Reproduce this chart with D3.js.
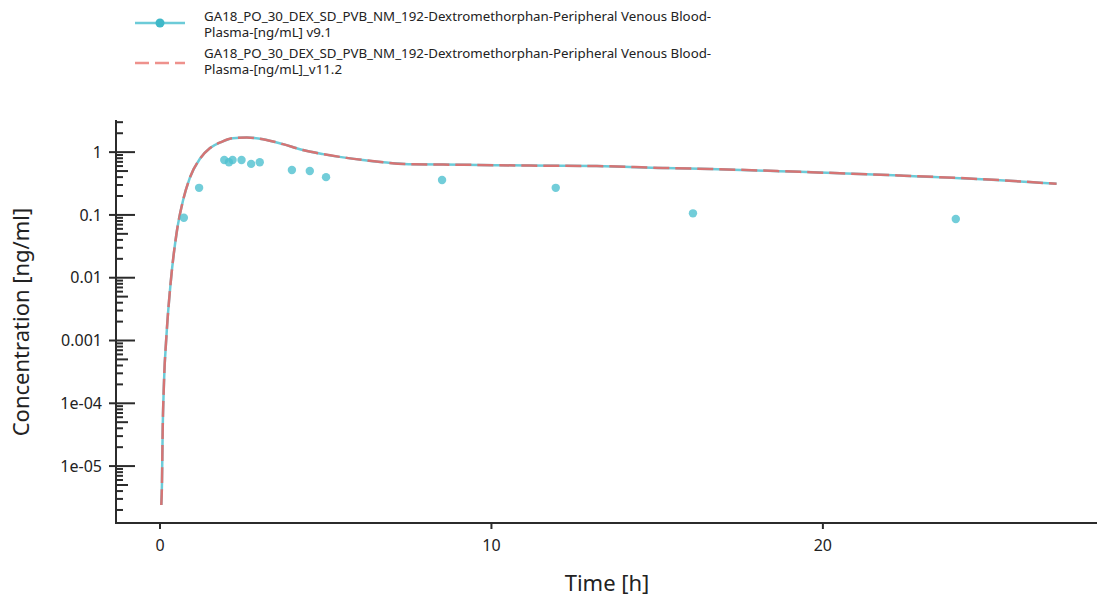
<!DOCTYPE html>
<html>
<head>
<meta charset="utf-8">
<script src="https://cdn.jsdelivr.net/npm/d3@7"></script>
<style>
  body { margin: 0; background: #fff; }
  svg { display: block; font-family: "Noto Sans", sans-serif; }
</style>
</head>
<body>
<div id="chart"></div>
<script>
// simulated profile (same for v9.1 and v11.2)
const simTime = [0.04, 0.06, 0.08, 0.12, 0.2, 0.32, 0.5, 0.7, 0.9, 1.21, 1.51, 1.86, 2.2, 2.62, 3.11, 3.71, 4.31, 4.92, 5.63, 6.12, 7.63, 9.14, 11.16, 13.18, 15.17, 16.59, 19.31, 22.32, 25.34, 27.05];
const simConc = [2.4e-6, 5.4e-6, 3.4e-5, 2.1e-4, 1.3e-3, 8.1e-3, 0.051, 0.174, 0.39, 0.79, 1.16, 1.46, 1.67, 1.71, 1.61, 1.34, 1.08, 0.93, 0.81, 0.75, 0.64, 0.63, 0.61, 0.60, 0.56, 0.54, 0.485, 0.425, 0.358, 0.313];

// observed data
const obsTime = [0.72, 1.18, 1.94, 2.08, 2.19, 2.46, 2.75, 3.01, 3.98, 4.52, 5.01, 8.51, 11.94, 16.08, 24.01];
const obsConc = [0.090, 0.27, 0.75, 0.69, 0.75, 0.75, 0.65, 0.69, 0.52, 0.50, 0.40, 0.36, 0.27, 0.106, 0.086];

const xTicks = [0, 10, 20];
const yMajor = [1e-5, 1e-4, 1e-3, 0.01, 0.1, 1];
const yLabels = ["1e-05", "1e-04", "0.001", "0.01", "0.1", "1"];

const legendLabels = [
  ["GA18_PO_30_DEX_SD_PVB_NM_192-Dextromethorphan-Peripheral Venous Blood-", "Plasma-[ng/mL] v9.1"],
  ["GA18_PO_30_DEX_SD_PVB_NM_192-Dextromethorphan-Peripheral Venous Blood-", "Plasma-[ng/mL]_v11.2"]
];

const width = 1097, height = 598;
const pLeft = 116, pRight = 1097, pTop = 120, pBottom = 523;
const cyan = "#6ccbd8", red = "#d57474";

const svg = d3.select("#chart").append("svg")
  .attr("width", width).attr("height", height);

const x = d3.scaleLinear().domain([-1.327, 28.27]).range([pLeft, pRight]);
const y = d3.scaleLog().domain([1.24e-6, 3.25]).range([pBottom, pTop]);

// axes lines
const axisColor = "#2b2b2b";
svg.append("line").attr("x1", pLeft).attr("x2", pLeft).attr("y1", pTop).attr("y2", pBottom)
  .attr("stroke", axisColor).attr("stroke-width", 2);
svg.append("line").attr("x1", pLeft - 1).attr("x2", pRight).attr("y1", pBottom).attr("y2", pBottom)
  .attr("stroke", axisColor).attr("stroke-width", 2);

// y ticks: major + minor (log)
const minor = [];
for (let e = -6; e <= 0; e++) {
  for (let m = 2; m <= 9; m++) {
    const v = m * Math.pow(10, e);
    if (v >= y.domain()[0] && v <= y.domain()[1]) minor.push({ v, m });
  }
}
svg.append("g").selectAll("line").data(minor).join("line")
  .attr("x1", pLeft).attr("x2", d => pLeft + (d.m === 5 ? 12 : 7))
  .attr("y1", d => y(d.v)).attr("y2", d => y(d.v))
  .attr("stroke", axisColor).attr("stroke-width", 2);
svg.append("g").selectAll("line").data(yMajor).join("line")
  .attr("x1", pLeft - 7).attr("x2", pLeft + 19)
  .attr("y1", d => y(d)).attr("y2", d => y(d))
  .attr("stroke", axisColor).attr("stroke-width", 2);
svg.append("g").selectAll("text").data(yMajor).join("text")
  .attr("x", 102).attr("y", d => y(d)).attr("dy", "0.36em")
  .attr("text-anchor", "end").attr("font-size", 16).attr("fill", "#222")
  .text((d, i) => yLabels[i]);

// x ticks
svg.append("g").selectAll("line").data(xTicks).join("line")
  .attr("x1", d => x(d)).attr("x2", d => x(d))
  .attr("y1", pBottom).attr("y2", pBottom + 6)
  .attr("stroke", axisColor).attr("stroke-width", 2);
svg.append("g").selectAll("text").data(xTicks).join("text")
  .attr("x", d => x(d)).attr("y", 551)
  .attr("text-anchor", "middle").attr("font-size", 16).attr("fill", "#222")
  .text(d => d);

// axis titles
svg.append("text").attr("x", 607).attr("y", 591).attr("text-anchor", "middle")
  .attr("font-size", 22).attr("fill", "#222").text("Time [h]");
svg.append("text").attr("transform", "translate(29,322) rotate(-90)")
  .attr("text-anchor", "middle").attr("font-size", 22).attr("fill", "#222")
  .text("Concentration [ng/ml]");

// simulated curves
const sim = simTime.map((t, i) => ({ t, c: simConc[i] }));
const line = d3.line().x(d => x(d.t)).y(d => y(d.c)).curve(d3.curveMonotoneX);

svg.append("path").datum(sim).attr("d", line)
  .attr("fill", "none").attr("stroke", cyan).attr("stroke-width", 2.5);
svg.append("path").datum(sim).attr("d", line)
  .attr("fill", "none").attr("stroke", red).attr("stroke-width", 2.5)
  .attr("stroke-dasharray", "16,6");

// observed points
const obs = obsTime.map((t, i) => ({ t, c: obsConc[i] }));
svg.append("g").selectAll("circle").data(obs).join("circle")
  .attr("cx", d => x(d.t)).attr("cy", d => y(d.c)).attr("r", 4.2)
  .attr("fill", "#4fc0d0").attr("fill-opacity", 0.8);

// legend
const lg = svg.append("g");
lg.append("line").attr("x1", 135).attr("x2", 185).attr("y1", 23).attr("y2", 23)
  .attr("stroke", cyan).attr("stroke-width", 2.5);
lg.append("circle").attr("cx", 160).attr("cy", 23).attr("r", 4.5).attr("fill", "#3fb8c8");
lg.append("line").attr("x1", 135).attr("x2", 185).attr("y1", 63).attr("y2", 63)
  .attr("stroke", "#ee918c").attr("stroke-width", 2.5).attr("stroke-dasharray", "14,6");

const legendY = [[16, 32], [53, 69]];
legendLabels.forEach((lines, i) => {
  lines.forEach((s, j) => {
    lg.append("text").attr("x", 204).attr("y", legendY[i][j]).attr("dy", "0.35em")
      .attr("font-size", 13.3).attr("fill", "#222").text(s);
  });
});
</script>
</body>
</html>
